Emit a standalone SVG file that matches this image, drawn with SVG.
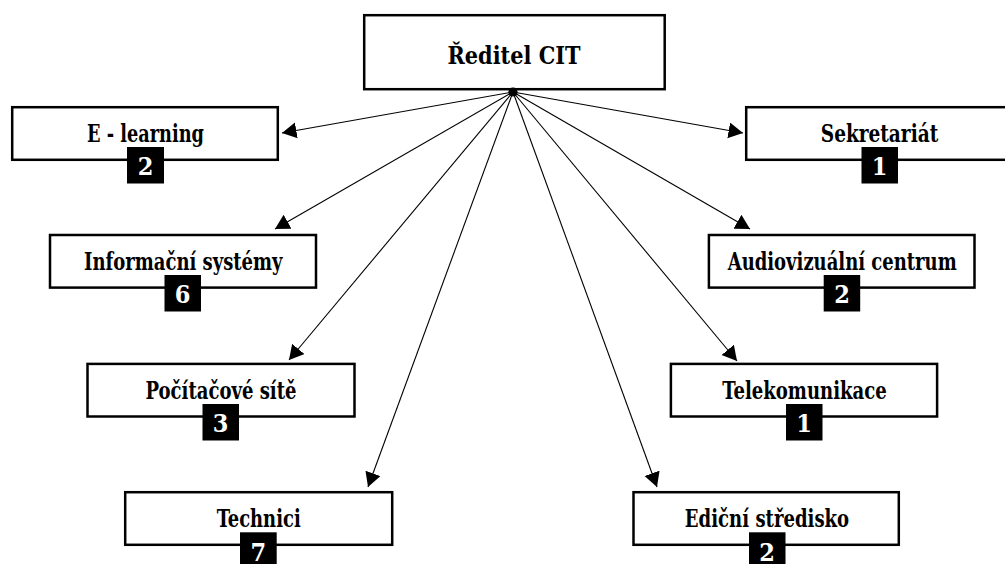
<svg xmlns="http://www.w3.org/2000/svg" width="1005" height="564" viewBox="0 0 1005 564">
<style>
  .box { fill: #fff; stroke: #000; stroke-width: 2.5; }
  .lbl { font-family: "DejaVu Serif Condensed", "DejaVu Serif", "Liberation Serif", serif; font-stretch: condensed; font-weight: bold; font-size: 25px; fill: #000; text-anchor: middle; }
  .badge { fill: #000; }
  .num { font-family: "DejaVu Serif Condensed", "DejaVu Serif", "Liberation Serif", serif; font-stretch: condensed; font-weight: bold; font-size: 25px; fill: #fff; text-anchor: middle; }
  .conn { stroke: #000; stroke-width: 1.1; fill: none; marker-end: url(#arrow); }
</style>
<defs>
  <marker id="arrow" markerUnits="userSpaceOnUse" markerWidth="15" markerHeight="17" refX="14.5" refY="8" orient="auto">
    <path d="M0,0 L14.5,8 L0,16 Z" fill="#000"/>
  </marker>
</defs>
<rect width="1005" height="564" fill="#fff"/>

<g id="connectors">
  <line class="conn" x1="513" y1="92" x2="282" y2="133"/>
  <line class="conn" x1="513" y1="92" x2="743" y2="133"/>
  <line class="conn" x1="513" y1="92" x2="275" y2="229"/>
  <line class="conn" x1="513" y1="92" x2="750" y2="229"/>
  <line class="conn" x1="513" y1="92" x2="289" y2="360"/>
  <line class="conn" x1="513" y1="92" x2="737" y2="361"/>
  <line class="conn" x1="513" y1="92" x2="368" y2="487"/>
  <line class="conn" x1="513" y1="92" x2="657" y2="487"/>
</g>

<g id="reditel">
  <rect class="box" x="364.2" y="15.2" width="300.5" height="74"/>
  <text class="lbl" x="514" y="64" font-size="26" textLength="133" lengthAdjust="spacingAndGlyphs">Ředitel CIT</text>
  <circle cx="513" cy="92" r="4.6" fill="#000"/>
</g>

<g id="elearning">
  <rect class="box" x="12.2" y="107.2" width="265.6" height="52.6"/>
  <text class="lbl" x="145.5" y="142" textLength="117" lengthAdjust="spacingAndGlyphs">E - learning</text>
  <rect class="badge" x="127" y="147" width="37" height="36.5"/>
  <text class="num" x="145.5" y="175">2</text>
</g>

<g id="sekretariat">
  <rect class="box" x="746.2" y="107.2" width="265.6" height="52.6"/>
  <text class="lbl" x="879.5" y="142" textLength="117.5" lengthAdjust="spacingAndGlyphs">Sekretariát</text>
  <rect class="badge" x="861.5" y="147" width="36.5" height="36.5"/>
  <text class="num" x="879.7" y="175">1</text>
</g>

<g id="informacni">
  <rect class="box" x="50" y="235" width="266" height="52.6"/>
  <text class="lbl" x="183.3" y="270" textLength="198.5" lengthAdjust="spacingAndGlyphs">Informační systémy</text>
  <rect class="badge" x="164.5" y="275" width="36.5" height="36.5"/>
  <text class="num" x="182.7" y="303">6</text>
</g>

<g id="audiovizualni">
  <rect class="box" x="708.9" y="235" width="265.6" height="52.6"/>
  <text class="lbl" x="842.2" y="270" textLength="229" lengthAdjust="spacingAndGlyphs">Audiovizuální centrum</text>
  <rect class="badge" x="823.7" y="275" width="36.5" height="36.5"/>
  <text class="num" x="842" y="303">2</text>
</g>

<g id="pocitacove">
  <rect class="box" x="87.5" y="363.9" width="267" height="52.6"/>
  <text class="lbl" x="221" y="399" textLength="151" lengthAdjust="spacingAndGlyphs">Počítačové sítě</text>
  <rect class="badge" x="202.5" y="404" width="36.5" height="36.5"/>
  <text class="num" x="220.7" y="432">3</text>
</g>

<g id="telekomunikace">
  <rect class="box" x="670.9" y="363.9" width="266.2" height="52.6"/>
  <text class="lbl" x="804.5" y="399" textLength="164.4" lengthAdjust="spacingAndGlyphs">Telekomunikace</text>
  <rect class="badge" x="786" y="404" width="36.5" height="36.5"/>
  <text class="num" x="804.2" y="432">1</text>
</g>

<g id="technici">
  <rect class="box" x="125.2" y="492.2" width="267" height="52.6"/>
  <text class="lbl" x="258.7" y="527.3" textLength="84" lengthAdjust="spacingAndGlyphs">Technici</text>
  <rect class="badge" x="240" y="532.3" width="36.7" height="36.5"/>
  <text class="num" x="258.3" y="560.5">7</text>
</g>

<g id="edicni">
  <rect class="box" x="633.5" y="492.2" width="265.3" height="52.6"/>
  <text class="lbl" x="767" y="527.3" textLength="164.3" lengthAdjust="spacingAndGlyphs">Ediční středisko</text>
  <rect class="badge" x="749" y="532.3" width="36.5" height="36.5"/>
  <text class="num" x="767" y="560.5">2</text>
</g>
</svg>
